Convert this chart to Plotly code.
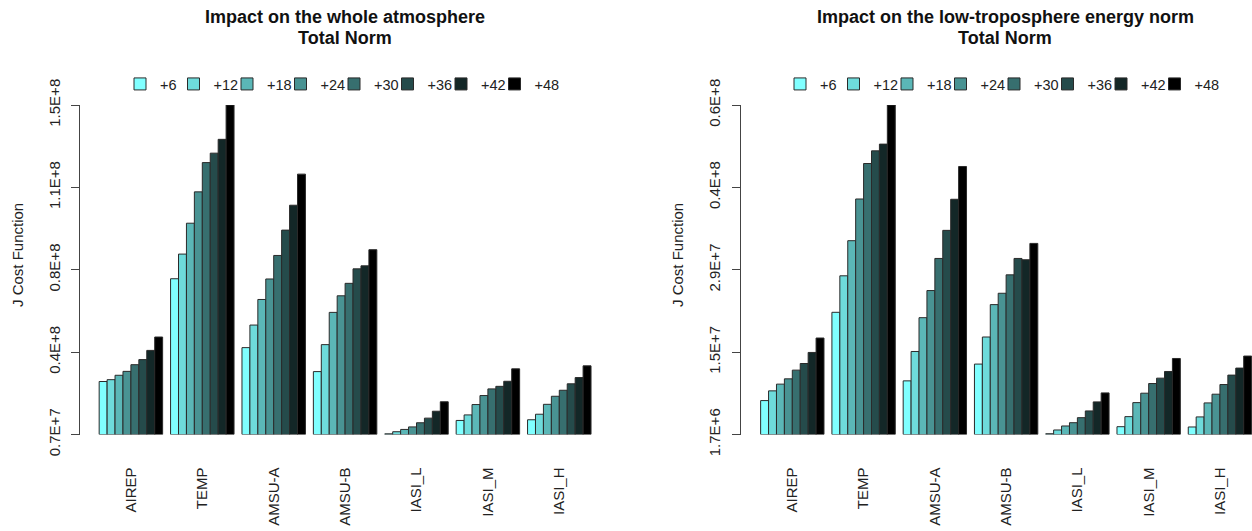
import plotly.graph_objects as go

# ---------------- data ----------------
categories = ["AIREP", "TEMP", "AMSU-A", "AMSU-B", "IASI_L", "IASI_M", "IASI_H"]
lead_times = ["+6", "+12", "+18", "+24", "+30", "+36", "+42", "+48"]

# Panel 1: impact on the whole atmosphere (values per lead time +6 ... +48)
whole_airep = [3.00e7, 3.08e7, 3.27e7, 3.44e7, 3.73e7, 3.95e7, 4.35e7, 4.93e7]
whole_temp = [7.46e7, 8.53e7, 9.87e7, 1.123e8, 1.250e8, 1.291e8, 1.351e8, 1.500e8]
whole_amsua = [4.47e7, 5.45e7, 6.56e7, 7.45e7, 8.47e7, 9.57e7, 1.065e8, 1.200e8]
whole_amsub = [3.43e7, 4.60e7, 6.00e7, 6.72e7, 7.26e7, 7.89e7, 8.02e7, 8.72e7]
whole_iasil = [0.73e7, 0.82e7, 0.92e7, 1.03e7, 1.21e7, 1.41e7, 1.71e7, 2.12e7]
whole_iasim = [1.31e7, 1.55e7, 2.00e7, 2.39e7, 2.68e7, 2.79e7, 3.01e7, 3.55e7]
whole_iasih = [1.34e7, 1.58e7, 2.01e7, 2.36e7, 2.62e7, 2.90e7, 3.17e7, 3.68e7]

# Panel 2: impact on the low-troposphere energy norm
low_airep = [7.70e6, 9.42e6, 1.061e7, 1.155e7, 1.309e7, 1.426e7, 1.622e7, 1.877e7]
low_temp = [2.332e7, 2.978e7, 3.599e7, 4.337e7, 4.965e7, 5.189e7, 5.308e7, 6.000e7]
low_amsua = [1.119e7, 1.639e7, 2.237e7, 2.717e7, 3.285e7, 3.782e7, 4.332e7, 4.912e7]
low_amsub = [1.416e7, 1.895e7, 2.468e7, 2.669e7, 2.995e7, 3.285e7, 3.262e7, 3.551e7]
low_iasil = [1.84e6, 2.50e6, 3.21e6, 3.79e6, 4.68e6, 5.87e6, 7.47e6, 9.06e6]
low_iasim = [3.08e6, 4.86e6, 7.34e6, 9.01e6, 1.072e7, 1.167e7, 1.285e7, 1.515e7]
low_iasih = [3.03e6, 4.81e6, 7.29e6, 8.83e6, 1.054e7, 1.221e7, 1.345e7, 1.558e7]

# y-axis extents and tick labels (as printed on the chart)
whole_ymin, whole_ymax = 7.0e6, 1.5e8
whole_ticktext = ["0.7E+7", "0.4E+8", "0.8E+8", "1.1E+8", "1.5E+8"]
low_ymin, low_ymax = 1.7e6, 6.0e7
low_ticktext = ["1.7E+6", "1.5E+7", "2.9E+7", "0.4E+8", "0.6E+8"]

colors = ["#80FFFF", "#6EDBDB", "#5BB7B7", "#499393", "#376F6F", "#254B4B", "#132727", "#000000"]

FONT = "Liberation Sans, Arial, Helvetica, sans-serif"

whole = [whole_airep, whole_temp, whole_amsua, whole_amsub, whole_iasil, whole_iasim, whole_iasih]
low = [low_airep, low_temp, low_amsua, low_amsub, low_iasil, low_iasim, low_iasih]

fig = go.Figure()

for panel, (data, ymin, xa, ya, leg) in enumerate([
        (whole, whole_ymin, "x", "y", "legend"),
        (low, low_ymin, "x2", "y2", "legend2")]):
    for i, lt in enumerate(lead_times):
        vals = [cat[i] for cat in data]
        fig.add_trace(go.Bar(
            x=categories,
            y=[v - ymin for v in vals],
            base=ymin,
            customdata=vals,
            hovertemplate="%{x} " + lt + ": %{customdata:.3e}<extra></extra>",
            name=lt,
            legendwidth=30 if i == len(lead_times) - 1 else None,
            marker=dict(color=colors[i], line=dict(color="#2a2a2a", width=1)),
            xaxis=xa, yaxis=ya, legend=leg,
        ))


def ticks(lo, hi, n=5):
    return [lo + (hi - lo) * k / (n - 1) for k in range(n)]


H = 531.0
W = 1252.0
y_dom = [(H - 434.5) / H, (H - 105) / H]

axis_common = dict(
    showgrid=False, zeroline=False, automargin=False,
    tickfont=dict(family=FONT, size=15, color="#222"),
)

legend_common = dict(orientation="h", xanchor="left", yanchor="middle",
                     entrywidth=8.5, entrywidthmode="pixels", itemwidth=30,
                     bgcolor="rgba(0,0,0,0)", font=dict(family=FONT, size=14.5, color="#222"),
                     itemclick=False, itemdoubleclick=False)

fig.update_layout(
    width=1252, height=531,
    margin=dict(l=0, r=0, t=0, b=0),
    template="none",
    paper_bgcolor="white", plot_bgcolor="white",
    barmode="group", bargap=1 / 9, bargroupgap=0,
    font=dict(family=FONT, size=15, color="#222"),
    xaxis=dict(domain=[79.5 / W, 610.7 / W], range=[-0.72, 6.72], tickangle=-90,
               showline=False, ticks="", ticklabelstandoff=29, anchor="y", **axis_common),
    xaxis2=dict(domain=[741 / W, 1.0], range=[-0.72, 6.45], tickangle=-90,
                showline=False, ticks="", ticklabelstandoff=29, anchor="y2", **axis_common),
    yaxis=dict(domain=y_dom, range=[whole_ymin, whole_ymax], anchor="x",
               tickvals=ticks(whole_ymin, whole_ymax), ticktext=whole_ticktext,
               tickangle=-90, ticks="outside", ticklen=8, tickcolor="#444",
               ticklabelstandoff=5,
               showline=True, linecolor="#444", linewidth=1, **axis_common),
    yaxis2=dict(domain=y_dom, range=[low_ymin, low_ymax], anchor="x2",
                tickvals=ticks(low_ymin, low_ymax), ticktext=low_ticktext,
                tickangle=-90, ticks="outside", ticklen=8, tickcolor="#444",
                ticklabelstandoff=6,
                showline=True, linecolor="#444", linewidth=1, **axis_common),
    legend=dict(x=120 / W, y=(H - 84) / H, **legend_common),
    legend2=dict(x=780 / W, y=(H - 84) / H, **legend_common),
    showlegend=True,
)

annotations = [
    dict(text="<b>Impact on the whole atmosphere</b>", x=345 / W, y=(H - 17) / H),
    dict(text="<b>Total Norm</b>", x=345 / W, y=(H - 38) / H),
    dict(text="<b>Impact on the low-troposphere energy norm</b>", x=1005 / W, y=(H - 17) / H),
    dict(text="<b>Total Norm</b>", x=1005 / W, y=(H - 38) / H),
]
for a in annotations:
    fig.add_annotation(xref="paper", yref="paper", showarrow=False, xanchor="center",
                       yanchor="middle", font=dict(family=FONT, size=18, color="#111"), **a)

for xpx in (17, 677):
    fig.add_annotation(text="J Cost Function", xref="paper", yref="paper",
                       x=xpx / W, y=(H - 255) / H, textangle=-90, showarrow=False,
                       xanchor="center", yanchor="middle",
                       font=dict(family=FONT, size=15, color="#222"))

fig.write_html("out.html", config={"displayModeBar": False},
               post_script="document.body.style.margin='0px';document.body.style.overflow='hidden';")
